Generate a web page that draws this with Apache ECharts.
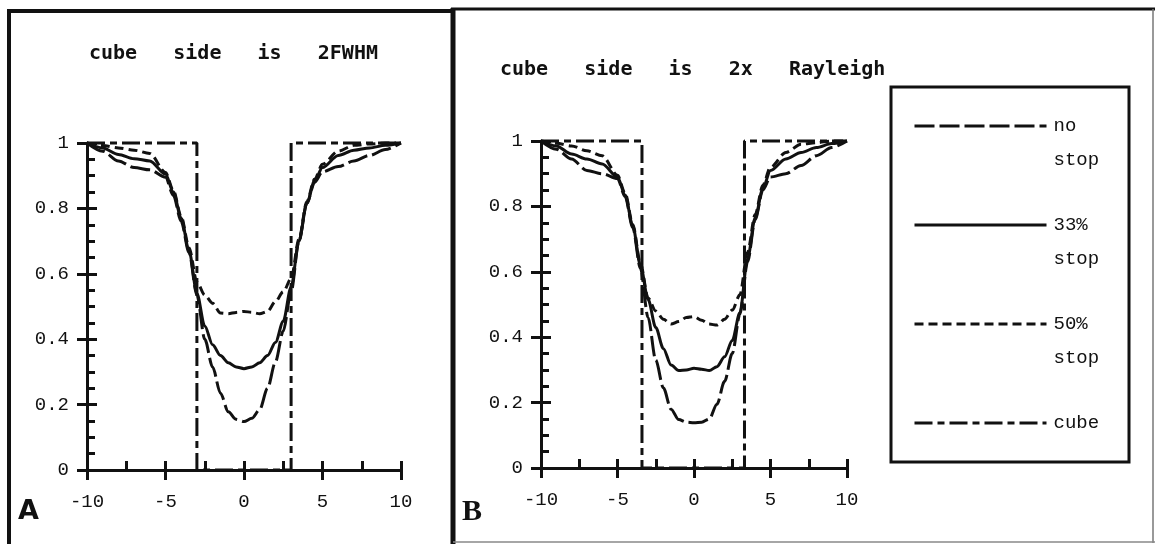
<!DOCTYPE html>
<html>
<head>
<meta charset="utf-8">
<script src="https://cdn.jsdelivr.net/npm/echarts@6/dist/echarts.min.js"></script>
<style>
html, body { margin: 0; padding: 0; background: #fff; }
#main { width: 1155px; height: 544px; }
</style>
</head>
<body>
<div id="main"></div>
<script>
// shared x positions of the profile samples
var xs = [-10, -9, -8, -7, -6, -5, -4.5, -4, -3.5, -3, -2.5, -2, -1.5, -1, -0.5, 0,
          0.5, 1, 1.5, 2, 2.5, 3, 3.5, 4, 4.5, 5, 6, 7, 8, 9, 10];

// panel A : cube side is 2FWHM
var noStopA = [1.0, 0.975, 0.945, 0.925, 0.918, 0.895, 0.84, 0.76, 0.665, 0.535, 0.40, 0.315, 0.235, 0.178, 0.155, 0.148,
               0.158, 0.185, 0.25, 0.33, 0.425, 0.545, 0.70, 0.815, 0.88, 0.912, 0.928, 0.945, 0.962, 0.98, 1.0];
var stop33A = [1.0, 0.985, 0.965, 0.952, 0.945, 0.905, 0.85, 0.77, 0.67, 0.54, 0.44, 0.383, 0.35, 0.328, 0.315, 0.31,
               0.315, 0.328, 0.35, 0.39, 0.455, 0.56, 0.70, 0.815, 0.885, 0.925, 0.962, 0.978, 0.985, 0.993, 1.0];
var stop50A = [1.0, 0.992, 0.985, 0.978, 0.968, 0.91, 0.855, 0.775, 0.68, 0.575, 0.535, 0.51, 0.48, 0.478, 0.482, 0.485,
               0.482, 0.478, 0.485, 0.515, 0.545, 0.585, 0.705, 0.82, 0.89, 0.935, 0.975, 0.993, 0.997, 1.0, 1.0];
var cubeXA = [-10, -3, -3, 3, 3, 10];

// panel B : cube side is 2x Rayleigh
var noStopB = [1.0, 0.975, 0.945, 0.91, 0.90, 0.885, 0.83, 0.735, 0.61, 0.46, 0.33, 0.245, 0.18, 0.148, 0.14, 0.138,
               0.14, 0.15, 0.195, 0.265, 0.35, 0.47, 0.63, 0.76, 0.85, 0.89, 0.90, 0.925, 0.955, 0.98, 1.0];
var stop33B = [1.0, 0.985, 0.96, 0.945, 0.93, 0.89, 0.835, 0.74, 0.62, 0.515, 0.43, 0.365, 0.315, 0.298, 0.30, 0.305,
               0.302, 0.298, 0.31, 0.34, 0.39, 0.475, 0.64, 0.765, 0.855, 0.91, 0.945, 0.965, 0.98, 0.992, 1.0];
var stop50B = [1.0, 0.993, 0.985, 0.97, 0.955, 0.895, 0.84, 0.745, 0.625, 0.52, 0.48, 0.455, 0.44, 0.448, 0.46, 0.463,
               0.452, 0.44, 0.437, 0.455, 0.483, 0.53, 0.66, 0.775, 0.865, 0.92, 0.965, 0.99, 0.995, 1.0, 1.0];
var cubeXB = [-10, -3.4, -3.4, 3.3, 3.3, 10];

var cubeY = [1, 1, 0, 0, 1, 1];

var seriesNames = ['no stop', '33% stop', '50% stop', 'cube'];
var legendText = { 'no stop': 'no\nstop', '33% stop': '33%\nstop', '50% stop': '50%\nstop', 'cube': 'cube\n' };
var titles = ['cube   side   is   2FWHM', 'cube   side   is   2x   Rayleigh'];

var ink = '#111';
var mono = 'Liberation Mono';

function pairs(xv, yv) {
    return xv.map(function (x, i) { return [x, yv[i]]; });
}

function xMain(g) {
    return {
        type: 'value', gridIndex: g, min: -10, max: 10, interval: 5,
        axisLine: { show: true, onZero: false, lineStyle: { color: ink, width: 3 } },
        axisTick: { show: true, inside: true, length: 9, lineStyle: { color: ink, width: 3 } },
        minorTick: { show: true, splitNumber: 2, length: 9, lineStyle: { color: ink, width: 3 } },
        axisLabel: { margin: 22, fontFamily: mono, fontSize: 19, color: ink },
        splitLine: { show: false }
    };
}
function xOuter(g) {
    return {
        type: 'value', gridIndex: g, min: -10, max: 10, interval: 5, position: 'bottom',
        axisLine: { show: false, onZero: false },
        axisTick: { show: true, inside: false, length: 10, lineStyle: { color: ink, width: 3 } },
        axisLabel: { show: false },
        splitLine: { show: false }
    };
}
function yMain(g) {
    return {
        type: 'value', gridIndex: g, min: 0, max: 1, interval: 0.2,
        axisLine: { show: true, onZero: false, lineStyle: { color: ink, width: 3 } },
        axisTick: { show: true, inside: true, length: 10, lineStyle: { color: ink, width: 3 } },
        minorTick: { show: true, splitNumber: 4, length: 8, lineStyle: { color: ink, width: 3 } },
        axisLabel: { margin: 18, fontFamily: mono, fontSize: 19, color: ink },
        splitLine: { show: false }
    };
}
function yOuter(g) {
    return {
        type: 'value', gridIndex: g, min: 0, max: 1, interval: 0.2, position: 'left',
        axisLine: { show: false, onZero: false },
        axisTick: { show: true, inside: false, length: 10, lineStyle: { color: ink, width: 3 } },
        axisLabel: { show: false },
        splitLine: { show: false }
    };
}

function curve(name, p, xv, yv, dash, smooth) {
    return {
        name: name, type: 'line', xAxisIndex: 2 * p, yAxisIndex: 2 * p,
        data: pairs(xv, yv),
        symbol: 'none', showSymbol: false, smooth: smooth, smoothMonotone: 'x',
        clip: false, silent: true,
        lineStyle: { color: ink, width: 3, type: dash },
        itemStyle: { color: ink }
    };
}

var dashes = { 'no stop': [20, 5], '33% stop': 'solid', '50% stop': [9, 5], 'cube': [18, 5, 7, 5] };

var series = [
    curve('cube', 0, cubeXA, cubeY, dashes['cube'], false),
    curve('no stop', 0, xs, noStopA, dashes['no stop'], 0.3),
    curve('33% stop', 0, xs, stop33A, dashes['33% stop'], 0.3),
    curve('50% stop', 0, xs, stop50A, dashes['50% stop'], 0.3),
    curve('cube', 1, cubeXB, cubeY, dashes['cube'], false),
    curve('no stop', 1, xs, noStopB, dashes['no stop'], 0.3),
    curve('33% stop', 1, xs, stop33B, dashes['33% stop'], 0.3),
    curve('50% stop', 1, xs, stop50B, dashes['50% stop'], 0.3)
];

var myChart = echarts.init(document.getElementById('main'));
myChart.setOption({
    animation: false,
    backgroundColor: '#fff',
    title: [
        { text: titles[0], left: 89, top: 44, padding: 0,
          textStyle: { fontFamily: 'DejaVu Sans Mono', fontWeight: 'bold', fontSize: 20, color: ink } },
        { text: titles[1], left: 500, top: 60, padding: 0,
          textStyle: { fontFamily: 'DejaVu Sans Mono', fontWeight: 'bold', fontSize: 20, color: ink } }
    ],
    grid: [
        { left: 87, top: 143, width: 314, height: 327, outerBoundsMode: 'none' },
        { left: 541, top: 141, width: 306, height: 327, outerBoundsMode: 'none' }
    ],
    xAxis: [xMain(0), xOuter(0), xMain(1), xOuter(1)],
    yAxis: [yMain(0), yOuter(0), yMain(1), yOuter(1)],
    legend: {
        data: seriesNames, orient: 'vertical', left: 913, top: 75, padding: 0,
        itemWidth: 132, itemHeight: 14, itemGap: -3, selectedMode: false,
        lineStyle: { width: 3 },
        itemStyle: { opacity: 0 },
        textStyle: { fontFamily: mono, fontSize: 19, color: ink, lineHeight: 34, padding: [0, 0, 0, 2] },
        formatter: function (n) { return '\n' + legendText[n]; }
    },
    graphic: [
        // panel frames
        { type: 'line', shape: { x1: 9, y1: 11, x2: 9, y2: 544 }, style: { stroke: ink, lineWidth: 4 } },
        { type: 'line', shape: { x1: 7, y1: 11, x2: 454, y2: 11 }, style: { stroke: ink, lineWidth: 4 } },
        { type: 'line', shape: { x1: 453, y1: 8, x2: 453, y2: 544 }, style: { stroke: ink, lineWidth: 5 } },
        { type: 'line', shape: { x1: 451, y1: 9, x2: 1155, y2: 9 }, style: { stroke: ink, lineWidth: 3 } },
        { type: 'line', shape: { x1: 1153, y1: 9, x2: 1153, y2: 543 }, style: { stroke: '#777', lineWidth: 1.5 } },
        { type: 'line', shape: { x1: 453, y1: 542, x2: 1155, y2: 542 }, style: { stroke: '#888', lineWidth: 1.5 } },
        // legend frame
        { type: 'rect', shape: { x: 891, y: 87, width: 238, height: 375 }, style: { fill: null, stroke: ink, lineWidth: 3 } },
        // panel letters
        { type: 'text', x: 18, y: 498, style: { text: 'A', font: 'bold 27px "DejaVu Sans"', fill: ink } },
        { type: 'text', x: 462, y: 497, style: { text: 'B', font: 'bold 30px "Liberation Serif"', fill: ink } }
    ],
    series: series
});
</script>
</body>
</html>
